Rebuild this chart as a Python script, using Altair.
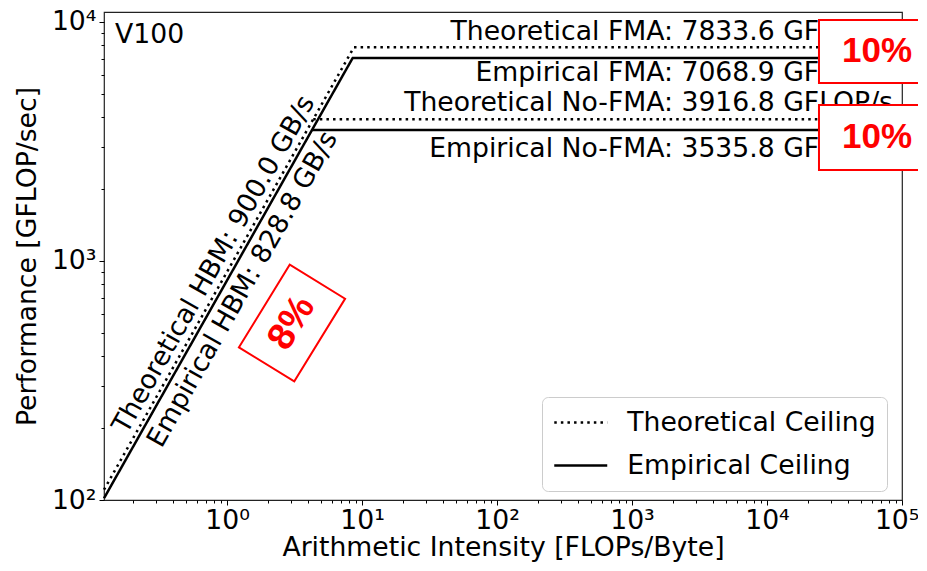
import altair as alt
import pandas as pd

# ---- data -------------------------------------------------------------
XMIN, XMAX = 0.1227, 1e5
YMIN, YMAX = 100, 11010

theo_bw = 900.0      # GB/s
emp_bw = 828.8       # GB/s
theo_fma = 7833.6    # GFLOP/s
emp_fma = 7068.9
theo_nofma = 3916.8
emp_nofma = 3535.8

legend_order = ["Theoretical Ceiling", "Empirical Ceiling"]

x_major = [1, 10, 100, 1000, 10000, 100000]
x_minor = [m * 10 ** e for e in range(-1, 5) for m in range(2, 10)]
x_minor = [v for v in x_minor if XMIN <= v <= XMAX]
y_major = [100, 1000, 10000]
y_minor = [m * 10 ** e for e in range(2, 4) for m in range(2, 10)]

# roofline segments (kind, segment id, x, y)
kind = []
seg = []
xs = []
ys = []

def add(k, s, pts):
    for (a, b) in pts:
        kind.append(k); seg.append(s); xs.append(a); ys.append(b)

add("Theoretical Ceiling", "t_fma",
    [(XMIN, theo_bw * XMIN), (theo_fma / theo_bw, theo_fma), (XMAX, theo_fma)])
add("Theoretical Ceiling", "t_nofma",
    [(theo_nofma / theo_bw, theo_nofma), (XMAX, theo_nofma)])
add("Empirical Ceiling", "e_fma",
    [(XMIN, emp_bw * XMIN), (emp_fma / emp_bw, emp_fma), (XMAX, emp_fma)])
add("Empirical Ceiling", "e_nofma",
    [(emp_nofma / emp_bw, emp_nofma), (XMAX, emp_nofma)])

lines_df = pd.DataFrame({"kind": kind, "seg": seg, "x": xs, "y": ys})

# ---- chart ------------------------------------------------------------
FONT = "DejaVu Sans"
FS = 26.67

xscale = alt.Scale(type="log", domain=[XMIN, XMAX], nice=False)
yscale = alt.Scale(type="log", domain=[YMIN, YMAX], nice=False)

sup = "['⁰','¹','²','³','⁴','⁵','⁶']"
lab_expr = "'10' + " + sup + "[round(log(datum.value)/LN10)]"

major_x = alt.Axis(values=x_major, labelExpr=lab_expr, orient="bottom",
                   title="Arithmetic Intensity [FLOPs/Byte]", grid=False, domain=False,
                   tickSize=5, tickColor="black", tickWidth=1,
                   labelFont=FONT, labelFontSize=FS, labelColor="black",
                   labelPadding=2, labelFlush=1, labelFlushOffset=17,
                   labelOverlap=False, labelBound=False,
                   titleFont=FONT, titleFontSize=FS, titleFontWeight="normal",
                   titleColor="black", titlePadding=1)
major_y = alt.Axis(values=y_major, labelExpr=lab_expr, orient="left",
                   title="Performance [GFLOP/sec]", grid=False, domain=False,
                   tickSize=5, tickColor="black", tickWidth=1,
                   labelFont=FONT, labelFontSize=FS, labelColor="black",
                   labelPadding=3, labelFlush=False, labelOverlap=False, labelBound=False,
                   titleFont=FONT, titleFontSize=FS, titleFontWeight="normal",
                   titleColor="black", titlePadding=10)
minor_x = alt.Axis(values=x_minor, labels=False, orient="bottom", title=None,
                   grid=False, domain=False, tickSize=3, tickColor="black", tickWidth=1)
minor_y = alt.Axis(values=y_minor, labels=False, orient="left", title=None,
                   grid=False, domain=False, tickSize=3, tickColor="black", tickWidth=1)

lines = alt.Chart(lines_df).mark_line(color="black", strokeWidth=2.5).encode(
    x=alt.X("x:Q", scale=xscale, axis=major_x),
    y=alt.Y("y:Q", scale=yscale, axis=major_y),
    detail="seg:N",
    strokeDash=alt.StrokeDash(
        "kind:N",
        scale=alt.Scale(domain=legend_order, range=[[2.5, 4.1], [1, 0]]),
        legend=alt.Legend(title=None, orient="none", legendX=438, legendY=385,
                          fillColor="white", strokeColor="#cccccc", cornerRadius=6,
                          padding=11, symbolOffset=13.25, symbolType="M-2,0H2",
                          symbolSize=702, symbolStrokeWidth=2.5, symbolStrokeColor="black",
                          labelFont=FONT, labelFontSize=FS, labelColor="black",
                          labelOffset=32, labelLimit=0, rowPadding=14),
    ),
)

minor = alt.Chart(lines_df).mark_point(opacity=0).encode(
    x=alt.X("x:Q", scale=xscale, axis=minor_x),
    y=alt.Y("y:Q", scale=yscale, axis=minor_y),
)


def txt(label, x, y, **kw):
    d = pd.DataFrame({"x": [x], "y": [y], "t": [label]})
    return alt.Chart(d).mark_text(**kw).encode(
        x=alt.X("x:Q", scale=xscale, axis=None),
        y=alt.Y("y:Q", scale=yscale, axis=None),
        text="t:N",
    )

base_txt = dict(font=FONT, fontSize=FS, color="black")

t_v100 = txt("V100", XMIN, YMAX, align="left", baseline="alphabetic", dx=11, dy=31, **base_txt)
t_tfma = txt(f"Theoretical FMA: {theo_fma:.1f} GFLOP/s", XMAX, theo_fma,
             align="right", baseline="alphabetic", dx=-9, dy=-7, **base_txt)
t_efma = txt(f"Empirical FMA: {emp_fma:.1f} GFLOP/s", XMAX, emp_fma,
             align="right", baseline="alphabetic", dx=-9, dy=23, **base_txt)
t_tnofma = txt(f"Theoretical No-FMA: {theo_nofma:.1f} GFLOP/s", XMAX, theo_nofma,
               align="right", baseline="alphabetic", dx=-9, dy=-8, **base_txt)
t_enofma = txt(f"Empirical No-FMA: {emp_nofma:.1f} GFLOP/s", XMAX, emp_nofma,
               align="right", baseline="alphabetic", dx=-9, dy=27, **base_txt)
t_tbw = txt(f"Theoretical HBM: {theo_bw:.1f} GB/s", 1.0, theo_bw * 1.0,
            align="center", baseline="alphabetic", angle=299.5, dy=-7, **base_txt)
t_ebw = txt(f"Empirical HBM: {emp_bw:.1f} GB/s", 1.0, emp_bw * 1.0,
            align="center", baseline="alphabetic", angle=299.5, dy=26, **base_txt)

# red annotation boxes
box_x1 = [24270, 24270]
box_x2 = [200000, 200000]
box_y1 = [10190, 4498]
box_y2 = [5557, 2404]
box_tx = [65300, 65300]
box_ty = [7535, 3304]
box_lab = ["10%", "10%"]
boxes_df = pd.DataFrame({"x": box_x1, "x2": box_x2, "y": box_y1, "y2": box_y2,
                         "tx": box_tx, "ty": box_ty, "t": box_lab})

boxes = alt.Chart(boxes_df).mark_rect(fill="white", stroke="red", strokeWidth=2).encode(
    x=alt.X("x:Q", scale=xscale, axis=None), x2="x2:Q",
    y=alt.Y("y:Q", scale=yscale, axis=None), y2="y2:Q",
)
box_text = alt.Chart(boxes_df).mark_text(font="Liberation Sans", fontWeight="bold",
                                         fontSize=35, color="red", baseline="middle",
                                         align="center").encode(
    x=alt.X("tx:Q", scale=xscale, axis=None),
    y=alt.Y("ty:Q", scale=yscale, axis=None),
    text="t:N",
)

rbox_x = [3.03]
rbox_y = [550]
rbox_lab = ["8%"]
rbox_df = pd.DataFrame({"x": rbox_x, "y": rbox_y, "t": rbox_lab})
rbox = alt.Chart(rbox_df).mark_point(
    shape="M-1,-0.67H1V0.67H-1Z", size=9409, angle=301.6, filled=True,
    fill="white", stroke="red", strokeWidth=2, opacity=1,
).encode(
    x=alt.X("x:Q", scale=xscale, axis=None),
    y=alt.Y("y:Q", scale=yscale, axis=None),
)
rbox_text = alt.Chart(rbox_df).mark_text(font="Liberation Sans", fontWeight="bold",
                                         fontSize=38, color="red", baseline="middle",
                                         align="center", angle=301.6).encode(
    x=alt.X("x:Q", scale=xscale, axis=None),
    y=alt.Y("y:Q", scale=yscale, axis=None),
    text="t:N",
)

chart = alt.layer(
    lines, minor, t_v100, t_tfma, t_efma, t_tnofma, t_enofma, t_tbw, t_ebw,
    boxes, box_text, rbox, rbox_text,
).resolve_axis(x="independent", y="independent").properties(
    width=798, height=488,
    autosize=alt.AutoSizeParams(type="none"),
    padding={"left": 96, "top": 4, "right": 16, "bottom": 63},
    background="white",
).configure_view(stroke="#222222", strokeWidth=1.2)

chart.save("out.html", embed_options={"renderer": "svg", "actions": False})
